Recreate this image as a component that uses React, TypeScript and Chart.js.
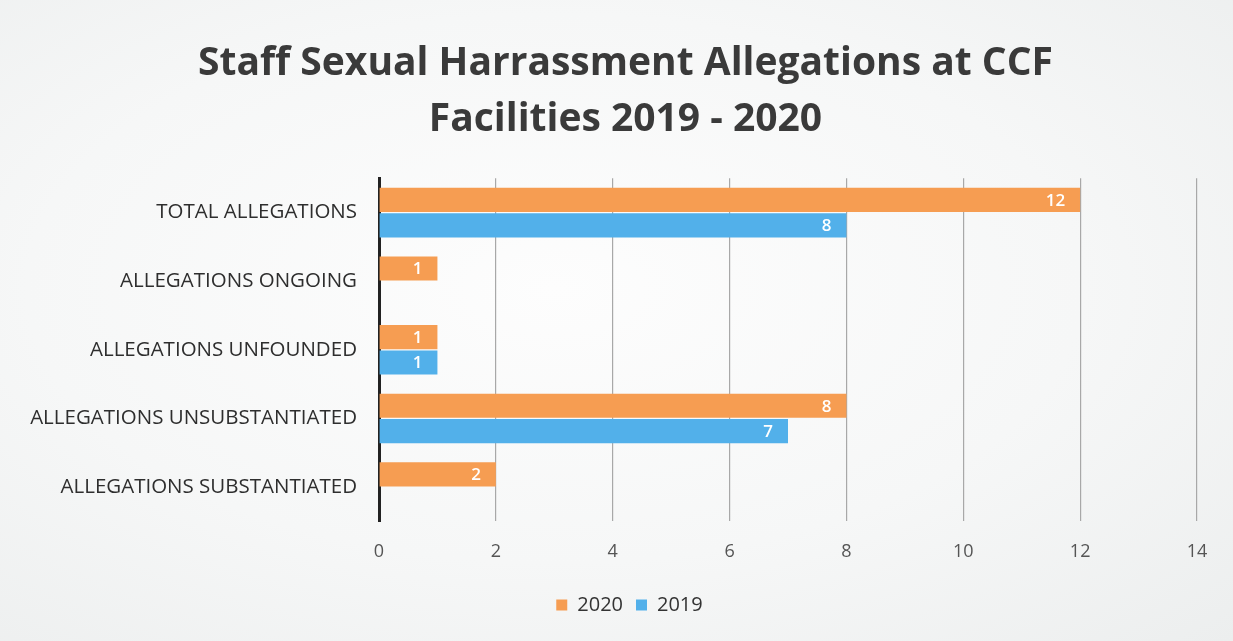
import React, { useEffect, useRef } from "react";
import { Chart, registerables } from "chart.js";

Chart.register(...registerables);

const categories = [
  "TOTAL ALLEGATIONS",
  "ALLEGATIONS ONGOING",
  "ALLEGATIONS UNFOUNDED",
  "ALLEGATIONS UNSUBSTANTIATED",
  "ALLEGATIONS SUBSTANTIATED",
];
const series2020 = [12, 1, 1, 8, 2];
const series2019: (number | null)[] = [8, null, 1, 7, null];
const titleLines = ["Staff Sexual Harrassment Allegations at CCF", "Facilities 2019 - 2020"];

const ORANGE = "#f69d52";
const BLUE = "#52b0ea";
const FONT = "'Open Sans', 'Noto Sans', sans-serif";

const labelPlugin = {
  id: "insideEndLabels",
  afterDatasetsDraw(chart: any) {
    const ctx = chart.ctx;
    ctx.save();
    ctx.fillStyle = "#ffffff";
    ctx.font = `600 17px ${FONT}`;
    ctx.textAlign = "right";
    ctx.textBaseline = "middle";
    chart.data.datasets.forEach((ds: any, i: number) => {
      const meta = chart.getDatasetMeta(i);
      meta.data.forEach((bar: any, j: number) => {
        const v = ds.data[j];
        if (v === null || v === undefined) return;
        ctx.fillText(String(v), bar.x - 15, bar.y + 1);
      });
    });
    ctx.restore();
  },
};

// shift the centred title and legend slightly right, as in the reference
const shiftPlugin = {
  id: "shiftCentred",
  afterLayout(chart: any) {
    if (chart.titleBlock) chart.titleBlock.left += 54;
    if (chart.legend) chart.legend.left += 62;
  },
};

export default function App() {
  const ref = useRef<HTMLCanvasElement>(null);
  useEffect(() => {
    document.body.style.margin = "0";
    const chart = new Chart(ref.current!, {
      type: "bar",
      data: {
        labels: categories,
        datasets: [
          { label: "2020", data: series2020, backgroundColor: ORANGE, barPercentage: 0.95, categoryPercentage: 0.74 },
          { label: "2019", data: series2019, backgroundColor: BLUE, barPercentage: 0.95, categoryPercentage: 0.74 },
        ],
      },
      options: {
        indexAxis: "y",
        animation: false,
        responsive: false,
        layout: { padding: { left: 0, right: 36, top: 0, bottom: 16 } },
        scales: {
          x: {
            min: 0,
            max: 14,
            ticks: { stepSize: 2, color: "#555", font: { family: FONT, size: 18 }, padding: 20 },
            grid: { color: "#a8a8a8", lineWidth: 1.2, drawTicks: false },
            border: { display: false },
            afterFit: (scale: any) => {
              scale.height = scale.height - 1;
            },
          },
          y: {
            ticks: { color: "#2e2e2e", font: { family: FONT, size: 20.5 }, padding: 22 },
            grid: { display: false, drawTicks: false },
            border: { display: true, color: "#222", width: 3 },
            afterFit: (scale: any) => {
              scale.width = 379;
            },
          },
        },
        plugins: {
          title: {
            display: true,
            text: titleLines,
            color: "#3a3a3a",
            font: { family: FONT, size: 39, weight: "bold", lineHeight: 1.44 },
            padding: { top: 36, bottom: 30 },
          },
          legend: {
            position: "bottom",
            labels: {
              boxWidth: 11,
              boxHeight: 11,
              color: "#333",
              font: { family: FONT, size: 20 },
              padding: 13,
            },
          },
          tooltip: { enabled: false },
        },
      },
      plugins: [labelPlugin, shiftPlugin],
    });
    return () => chart.destroy();
  }, []);
  return (
    <div
      style={{
        width: 1233,
        height: 641,
        background: "radial-gradient(ellipse at 45% 45%, #fdfdfd 0%, #f6f7f7 55%, #eceeee 100%)",
      }}
    >
      <canvas ref={ref} width={1233} height={641} />
    </div>
  );
}
